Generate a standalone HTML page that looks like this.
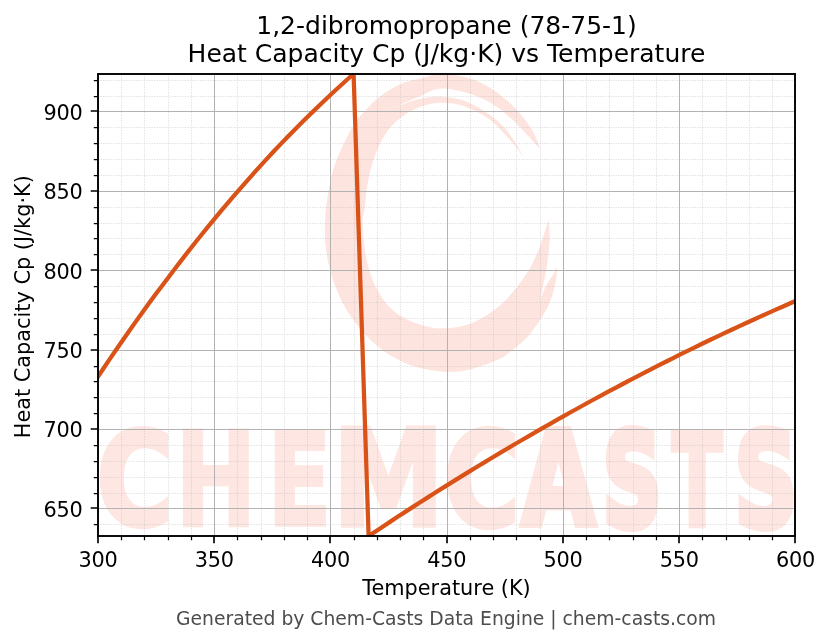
<!DOCTYPE html>
<html lang="en">
<head>
<meta charset="utf-8">
<title>1,2-dibromopropane (78-75-1) - Heat Capacity Cp (J/kg·K) vs Temperature</title>
<style>
html,body{margin:0;padding:0;background:#fff;}
svg{display:block;will-change:transform;}
text{font-family:"DejaVu Sans","Liberation Sans",sans-serif;fill:#000;}
</style>
</head>
<body>
<svg width="830" height="644" viewBox="0 0 830 644">
<rect width="830" height="644" fill="#fff"/>
<defs><clipPath id="ax"><rect x="98.0" y="74.0" width="697.0" height="462.0"/></clipPath></defs>
<g clip-path="url(#ax)" fill="#fee4de"><path d="M540.5,149.4C539.0,146.1 536.1,136.6 531.8,129.6C527.4,122.6 521.4,114.2 514.4,107.2C507.4,100.2 497.9,92.4 489.6,87.4C481.3,82.4 473.1,79.3 464.8,77.1C456.6,74.9 447.6,74.1 440.0,74.3C432.4,74.6 425.5,77.2 419.1,78.8C412.7,80.3 407.3,81.2 401.4,83.8C395.5,86.3 389.1,90.1 383.5,94.1C378.0,98.0 372.8,102.7 368.1,107.5C363.4,112.2 359.5,116.2 355.3,122.5C351.1,128.8 346.5,137.8 342.9,145.5C339.3,153.1 336.0,160.5 333.5,168.6C331.0,176.7 329.3,185.5 328.0,193.9C326.6,202.3 325.6,210.4 325.2,218.9C324.8,227.4 324.7,236.3 325.5,244.8C326.3,253.3 327.7,261.3 329.9,269.6C332.1,277.9 335.1,286.5 338.6,294.4C342.1,302.3 346.2,309.8 351.0,316.8C355.8,323.8 361.5,330.8 367.1,336.6C372.7,342.4 378.3,347.1 384.5,351.5C390.7,355.9 397.4,359.7 404.4,362.7C411.4,365.7 419.3,368.1 426.7,369.6C434.1,371.1 441.9,371.9 449.0,371.9C456.1,371.9 461.2,371.7 469.5,369.6C477.8,367.5 491.6,362.7 499.0,359.3C506.4,355.9 508.8,352.9 513.7,349.0C518.6,345.1 523.6,341.4 528.5,335.7C533.4,330.0 539.5,320.9 543.2,315.0C546.9,309.1 548.5,305.7 550.6,300.3C552.7,294.9 554.5,288.2 555.6,282.6C556.7,277.0 556.9,269.1 557.1,266.4C556.5,267.6 555.4,270.5 553.6,273.7C551.8,276.9 548.5,281.1 546.2,285.5C543.9,289.9 541.0,297.8 540.0,300.3C540.3,298.8 540.9,295.8 541.8,291.4C542.7,287.0 544.5,280.1 545.6,273.7C546.7,267.3 547.9,259.5 548.6,253.1C549.3,246.7 549.7,240.9 549.7,235.4C549.7,229.9 548.7,222.7 548.5,220.1C546.6,225.6 541.6,243.2 537.3,253.1C533.0,263.0 529.0,270.8 522.6,279.6C516.2,288.5 507.9,298.8 499.0,306.2C490.1,313.6 479.3,320.2 469.5,323.9C459.7,327.6 448.4,328.2 440.0,328.3C431.6,328.4 425.7,326.1 419.3,324.2C412.9,322.3 407.3,320.1 401.9,316.8C396.5,313.5 391.4,309.4 387.0,304.4C382.6,299.4 378.9,293.2 375.8,287.0C372.7,280.8 370.3,274.1 368.4,267.1C366.5,260.1 365.1,252.7 364.2,244.8C363.2,237.0 362.6,226.0 362.7,220.0C362.8,214.0 364.0,214.6 364.7,209.0C365.4,203.4 365.9,194.0 367.1,186.6C368.3,179.2 370.0,171.3 372.1,164.3C374.2,157.3 376.5,150.6 379.6,144.4C382.7,138.2 386.8,131.8 390.7,127.1C394.6,122.3 398.3,119.2 403.1,115.9C407.9,112.6 413.2,109.4 419.3,107.2C425.4,105.0 432.4,102.9 440.0,102.8C447.6,102.7 456.5,103.7 464.8,106.5C473.1,109.3 482.2,114.1 489.6,119.6C497.1,125.1 503.8,133.3 509.5,139.5C515.2,145.7 521.6,154.1 524.0,157.0C521.2,152.6 512.7,137.9 507.0,130.8C501.3,123.8 496.6,119.7 489.6,114.7C482.6,109.7 473.1,104.0 464.8,101.0C456.5,98.0 447.6,97.1 440.0,96.8C432.4,96.5 426.9,97.3 419.3,99.0C411.7,100.7 398.5,105.8 394.4,107.2C398.5,105.4 411.7,99.6 419.3,96.5C426.9,93.4 432.4,89.3 440.0,88.6C447.6,87.9 456.5,90.0 464.8,92.3C473.1,94.6 482.2,98.2 489.6,102.3C497.1,106.4 503.7,112.1 509.5,117.1C515.3,122.0 519.2,126.6 524.4,132.0C529.6,137.4 537.8,146.5 540.5,149.4Z"/><g font-size="100" font-weight="bold"><text transform="matrix(1.0435 0 0 1.3056 96.58 524.67)" style="fill:#fee7e2;stroke:#fee7e2;stroke-width:4px;vector-effect:non-scaling-stroke">C</text><text transform="matrix(0.9816 0 0 1.3210 174.87 525.70)" style="fill:#fee7e2;stroke:#fee7e2;stroke-width:2px;vector-effect:non-scaling-stroke">H</text><text transform="matrix(0.9363 0 0 1.2867 267.39 524.50)" style="fill:#fee7e2;stroke:#fee7e2;stroke-width:3px;vector-effect:non-scaling-stroke">E</text><text transform="matrix(1.1344 0 0 1.3539 332.06 525.70)" style="fill:#fee7e2;stroke:#fee7e2;stroke-width:3px;vector-effect:non-scaling-stroke">M</text><text transform="matrix(1.0403 0 0 1.3228 443.80 526.15)" style="fill:#fee7e2;stroke:#fee7e2;stroke-width:4px;vector-effect:non-scaling-stroke">C</text><text transform="matrix(0.9555 0 0 1.3004 521.52 524.20)" style="fill:#fee7e2;stroke:#fee7e2;stroke-width:6px;vector-effect:non-scaling-stroke">A</text><text transform="matrix(0.8209 0 0 1.3056 602.39 526.17)" style="fill:#fee7e2;stroke:#fee7e2;stroke-width:7px;vector-effect:non-scaling-stroke">S</text><text transform="matrix(0.7366 0 0 1.2922 671.88 524.75)" style="fill:#fee7e2;stroke:#fee7e2;stroke-width:4.5px;vector-effect:non-scaling-stroke">T</text><text transform="matrix(0.8730 0 0 1.3056 734.51 526.17)" style="fill:#fee7e2;stroke:#fee7e2;stroke-width:7px;vector-effect:non-scaling-stroke">S</text></g></g>
<g fill="none" stroke="#b0b0b0" stroke-opacity="0.38" stroke-width="1.04" stroke-dasharray="1.3 1.25">
<path d="M121.5,74.0V536.0M144.5,74.0V536.0M168.5,74.0V536.0M191.5,74.0V536.0M237.5,74.0V536.0M261.5,74.0V536.0M284.5,74.0V536.0M307.5,74.0V536.0M354.5,74.0V536.0M377.5,74.0V536.0M400.5,74.0V536.0M423.5,74.0V536.0M470.5,74.0V536.0M493.5,74.0V536.0M516.5,74.0V536.0M540.5,74.0V536.0M586.5,74.0V536.0M609.5,74.0V536.0M633.5,74.0V536.0M656.5,74.0V536.0M702.5,74.0V536.0M726.5,74.0V536.0M749.5,74.0V536.0M772.5,74.0V536.0M98.0,524.5H795.0M98.0,493.5H795.0M98.0,477.5H795.0M98.0,461.5H795.0M98.0,445.5H795.0M98.0,413.5H795.0M98.0,397.5H795.0M98.0,381.5H795.0M98.0,366.5H795.0M98.0,334.5H795.0M98.0,318.5H795.0M98.0,302.5H795.0M98.0,286.5H795.0M98.0,254.5H795.0M98.0,238.5H795.0M98.0,223.5H795.0M98.0,207.5H795.0M98.0,175.5H795.0M98.0,159.5H795.0M98.0,143.5H795.0M98.0,127.5H795.0M98.0,96.5H795.0M98.0,80.5H795.0"/>
</g>
<g fill="none" stroke="#b2b2b2" stroke-width="1" shape-rendering="crispEdges">
<path d="M98.5,74.0V536.0M214.5,74.0V536.0M330.5,74.0V536.0M447.5,74.0V536.0M563.5,74.0V536.0M679.5,74.0V536.0M795.5,74.0V536.0M98.0,508.5H795.0M98.0,429.5H795.0M98.0,350.5H795.0M98.0,270.5H795.0M98.0,191.5H795.0M98.0,111.5H795.0"/>
</g>
<g clip-path="url(#ax)"><path d="M96.0,379.6 L102.6,369.7 L109.2,359.9 L115.8,350.3 L122.4,340.7 L129.0,331.3 L135.6,321.9 L142.2,312.7 L148.8,303.6 L155.4,294.6 L162.1,285.7 L168.7,276.9 L175.3,268.2 L181.9,259.6 L188.5,251.1 L195.1,242.8 L201.7,234.5 L208.3,226.4 L214.9,218.4 L221.5,210.4 L228.1,202.6 L234.7,194.9 L241.3,187.3 L247.9,179.8 L254.5,172.4 L261.1,165.1 L267.7,157.9 L274.3,150.8 L280.9,143.9 L287.5,137.0 L294.2,130.2 L300.8,123.6 L307.4,117.0 L314.0,110.6 L320.6,104.2 L327.2,98.0 L333.8,91.8 L340.4,85.8 L347.0,79.8 L353.6,74.0 L368.6,536.0 L375.9,531.2 L383.1,526.4 L390.4,521.6 L397.6,516.8 L404.9,512.1 L412.2,507.4 L419.4,502.7 L426.7,498.1 L433.9,493.5 L441.2,488.9 L448.5,484.4 L455.7,479.9 L463.0,475.4 L470.3,470.9 L477.5,466.5 L484.8,462.1 L492.0,457.7 L499.3,453.4 L506.6,449.0 L513.8,444.7 L521.1,440.5 L528.3,436.3 L535.6,432.1 L542.9,427.9 L550.1,423.8 L557.4,419.6 L564.6,415.6 L571.9,411.5 L579.2,407.5 L586.4,403.5 L593.7,399.5 L601.0,395.6 L608.2,391.7 L615.5,387.8 L622.7,384.0 L630.0,380.1 L637.3,376.3 L644.5,372.6 L651.8,368.8 L659.0,365.1 L666.3,361.5 L673.6,357.8 L680.8,354.2 L688.1,350.6 L695.3,347.1 L702.6,343.5 L709.9,340.0 L717.1,336.6 L724.4,333.1 L731.7,329.7 L738.9,326.3 L746.2,323.0 L753.4,319.7 L760.7,316.4 L768.0,313.1 L775.2,309.9 L782.5,306.7 L789.7,303.5 L797.0,300.3" fill="none" stroke="#D95319" stroke-width="4.25" stroke-linejoin="round" stroke-linecap="butt"/></g>
<g fill="none" stroke="#000">
<path d="M121.5,536.0v4.2M144.5,536.0v4.2M168.5,536.0v4.2M191.5,536.0v4.2M237.5,536.0v4.2M261.5,536.0v4.2M284.5,536.0v4.2M307.5,536.0v4.2M354.5,536.0v4.2M377.5,536.0v4.2M400.5,536.0v4.2M423.5,536.0v4.2M470.5,536.0v4.2M493.5,536.0v4.2M516.5,536.0v4.2M540.5,536.0v4.2M586.5,536.0v4.2M609.5,536.0v4.2M633.5,536.0v4.2M656.5,536.0v4.2M702.5,536.0v4.2M726.5,536.0v4.2M749.5,536.0v4.2M772.5,536.0v4.2M98.0,524.5h-4.2M98.0,493.5h-4.2M98.0,477.5h-4.2M98.0,461.5h-4.2M98.0,445.5h-4.2M98.0,413.5h-4.2M98.0,397.5h-4.2M98.0,381.5h-4.2M98.0,366.5h-4.2M98.0,334.5h-4.2M98.0,318.5h-4.2M98.0,302.5h-4.2M98.0,286.5h-4.2M98.0,254.5h-4.2M98.0,238.5h-4.2M98.0,223.5h-4.2M98.0,207.5h-4.2M98.0,175.5h-4.2M98.0,159.5h-4.2M98.0,143.5h-4.2M98.0,127.5h-4.2M98.0,96.5h-4.2M98.0,80.5h-4.2" stroke-width="1.25"/>
<path d="M98.0,536.0v7.3M214.0,536.0v7.3M330.0,536.0v7.3M447.0,536.0v7.3M563.0,536.0v7.3M679.0,536.0v7.3M795.0,536.0v7.3M98.0,508.0h-7.3M98.0,429.0h-7.3M98.0,350.0h-7.3M98.0,270.0h-7.3M98.0,191.0h-7.3M98.0,111.0h-7.3" stroke-width="1.67"/>
<rect x="98.0" y="74.0" width="697.0" height="462.0" stroke-width="1.9"/>
</g>
<g font-size="20.833"><g style="letter-spacing:-0.26px"><text x="98.1" y="567.2" text-anchor="middle">300</text><text x="214.3" y="567.2" text-anchor="middle">350</text><text x="330.6" y="567.2" text-anchor="middle">400</text><text x="446.8" y="567.2" text-anchor="middle">450</text><text x="563.1" y="567.2" text-anchor="middle">500</text><text x="679.3" y="567.2" text-anchor="middle">550</text><text x="795.5" y="567.2" text-anchor="middle">600</text><text x="82.6" y="516.9" text-anchor="end">650</text><text x="82.6" y="437.4" text-anchor="end">700</text><text x="82.6" y="358.0" text-anchor="end">750</text><text x="82.6" y="278.6" text-anchor="end">800</text><text x="82.6" y="199.2" text-anchor="end">850</text><text x="82.6" y="119.8" text-anchor="end">900</text></g>
<text x="446.5" y="594.6" text-anchor="middle">Temperature (K)</text>
<text transform="translate(30.1,306.7) rotate(-90)" text-anchor="middle">Heat Capacity Cp (J/kg·K)</text>
</g>
<g font-size="25" text-anchor="middle">
<text x="446.5" y="33.6">1,2-dibromopropane (78-75-1)</text>
<text x="446.5" y="61.6">Heat Capacity Cp (J/kg·K) vs Temperature</text>
</g>
<text x="446" y="625" font-size="18.75" text-anchor="middle" style="fill:#4d4d4d">Generated by Chem-Casts Data Engine | chem-casts.com</text>
</svg>
</body>
</html>
